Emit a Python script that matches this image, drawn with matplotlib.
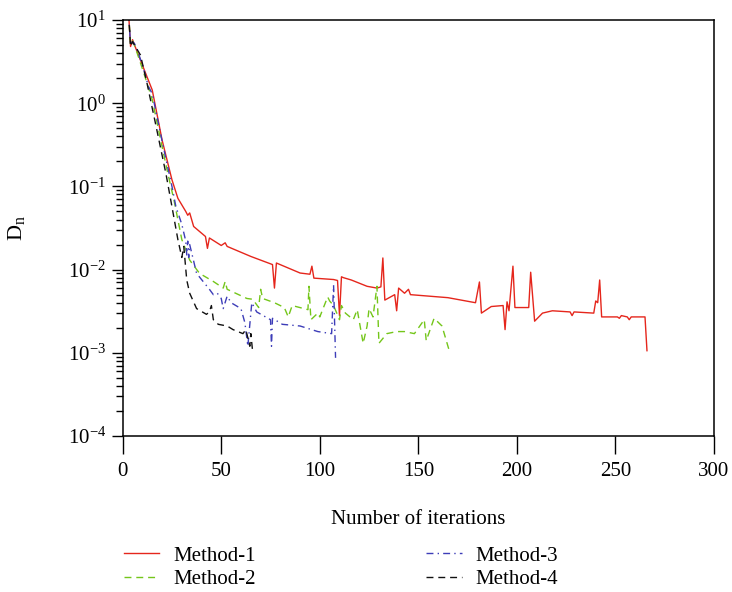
import matplotlib
matplotlib.use("Agg")
import matplotlib.pyplot as plt
from matplotlib.ticker import LogLocator, NullFormatter, FixedLocator

plt.rcParams['font.family'] = ['Liberation Serif', 'DejaVu Serif']
plt.rcParams['mathtext.fontset'] = 'custom'
plt.rcParams['mathtext.rm'] = 'Liberation Serif'
plt.rcParams['mathtext.it'] = 'Liberation Serif:italic'
plt.rcParams['mathtext.bf'] = 'Liberation Serif:bold'

# ---------------- data ----------------
labels = ["Method-1", "Method-2", "Method-3", "Method-4"]

m1_x = [3, 4, 5, 6, 8, 11, 15, 20, 25, 28, 32, 33, 34, 36, 42, 43, 44, 50, 52, 53,
        65, 76, 77, 78, 90, 95, 96, 97, 107, 109, 110, 111, 112, 116, 124, 129, 131,
        132, 133, 138, 139, 140, 143, 145, 146, 165, 179, 181, 182, 187, 193, 194,
        195, 196, 198, 199, 206, 207, 209, 213, 218, 227, 228, 229, 239, 240, 241,
        242, 243, 251, 252, 253, 256, 257, 258, 265, 266]
m1_y = [12, 4.8, 5.8, 5.0, 3.8, 2.5, 1.44, 0.36, 0.12, 0.072, 0.050, 0.045, 0.048,
        0.033, 0.025, 0.018, 0.024, 0.0195, 0.021, 0.019,
        0.0144, 0.0115, 0.006, 0.012, 0.0091, 0.0088, 0.011, 0.0079, 0.0076, 0.0074,
        0.0028, 0.0082, 0.0080, 0.0075, 0.0063, 0.0060, 0.0062,
        0.0138, 0.0043, 0.0050, 0.0032, 0.0060, 0.0052, 0.0058, 0.0050, 0.0046,
        0.0040, 0.0071, 0.0030, 0.0036, 0.0037, 0.0019,
        0.0041, 0.0032, 0.0110, 0.0035, 0.0035, 0.0093, 0.0024, 0.0030, 0.0032,
        0.0031, 0.0028, 0.0031, 0.0030, 0.0042, 0.0040,
        0.0075, 0.0027, 0.0027, 0.0026, 0.0028, 0.0027, 0.0025, 0.0027, 0.0027, 0.00106]

m2_x = [3, 4, 5, 6, 8, 11, 15, 20, 23, 26, 30, 34, 39, 46, 51, 52, 53, 63, 66, 69,
        70, 71, 77, 82, 84, 86, 94, 94.5, 95.5, 99, 100, 104, 105, 107, 110, 111,
        113, 117, 119, 122, 124, 125, 127, 129, 130, 134, 139, 143, 148, 153, 154,
        158, 162, 166]
m2_y = [12, 5.0, 5.6, 5.0, 3.6, 2.2, 1.1, 0.30, 0.14, 0.069, 0.023, 0.013, 0.009,
        0.0072, 0.0060, 0.0072, 0.0058, 0.0045, 0.0044, 0.0035,
        0.0058, 0.0045, 0.0040, 0.0035, 0.0027, 0.0037, 0.0033, 0.0063, 0.0025,
        0.0030, 0.0027, 0.0047, 0.0042, 0.0037, 0.0025, 0.0037,
        0.0030, 0.0025, 0.0033, 0.0013, 0.0021, 0.0034, 0.0027, 0.0063, 0.0013,
        0.0017, 0.0018, 0.0018, 0.0017, 0.0025, 0.0014,
        0.0026, 0.0021, 0.0010]

m3_x = [3, 4, 5, 6, 8, 11, 13, 15, 20, 25, 27, 30, 32, 32.5, 33, 33.5, 34, 37.5,
        44, 46, 48, 50, 51, 53, 55, 60, 62, 63.5, 65.5, 68, 75, 75.5, 76, 81, 90,
        99, 106, 107, 108]
m3_y = [12, 5.0, 5.5, 5.2, 4.0, 2.4, 1.6, 1.3, 0.35, 0.10, 0.057, 0.035, 0.022,
        0.015, 0.022, 0.014, 0.020, 0.009,
        0.0058, 0.0050, 0.0052, 0.0045, 0.0034, 0.0048, 0.0040, 0.0034, 0.0023,
        0.0012, 0.0040, 0.0031, 0.0025, 0.0012, 0.0026, 0.0022, 0.0021,
        0.0018, 0.0017, 0.0065, 0.00087]

m4_x = [3, 4, 5, 6, 9, 12, 17, 22, 25, 28, 30, 31, 32.5, 34, 37.5, 42.5, 44, 45,
        46, 48.5, 53, 56, 61, 62.5, 64.5, 65, 66]
m4_y = [12, 4.8, 5.5, 5.0, 3.8, 1.9, 0.52, 0.14, 0.057, 0.023, 0.014, 0.019,
        0.0075, 0.0052, 0.0034, 0.0029, 0.0031, 0.0037,
        0.0025, 0.0022, 0.0021, 0.0019, 0.0017, 0.0019, 0.0012, 0.0017, 0.0010]

x_ticks = [0, 50, 100, 150, 200, 250, 300]

# ---------------- figure ----------------
fig = plt.figure(figsize=(7.32, 5.92), dpi=100)
ax = fig.add_axes([0.1676, 0.2635, 0.8078, 0.7027])

styles = [
    dict(color='#e5261c', linestyle='-', linewidth=1.0),
    dict(color='#74c61a', linestyle=(0, (5, 3.5)), linewidth=1.0),
    dict(color='#3d3db8', linestyle=(0, (5, 3, 1, 3)), linewidth=1.0),
    dict(color='#111111', linestyle=(0, (5, 3.5)), linewidth=1.0),
]
series = [(m1_x, m1_y), (m2_x, m2_y), (m3_x, m3_y), (m4_x, m4_y)]
for (xs, ys), lab, st in zip(series, labels, styles):
    ax.plot(xs, ys, label=lab, **st)

ax.set_yscale('log')
ax.set_xlim(0, 300)
ax.set_ylim(1e-4, 10)
ax.xaxis.set_major_locator(FixedLocator(x_ticks))
ax.yaxis.set_major_locator(LogLocator(base=10, numticks=10))
ax.yaxis.set_minor_locator(LogLocator(base=10, subs=range(2, 10), numticks=20))
ax.yaxis.set_minor_formatter(NullFormatter())

for sp in ax.spines.values():
    sp.set_linewidth(1.1)
ax.tick_params(axis='x', which='major', direction='out', length=13, width=1.0,
               labelsize=15, pad=6)
ax.tick_params(axis='y', which='major', direction='out', length=8, width=1.0,
               labelsize=15, pad=4)
ax.tick_params(axis='y', which='minor', direction='out', length=5, width=1.0)
ax.tick_params(top=False, right=False)

ax.set_xlabel('Number of iterations', fontsize=15)
ax.xaxis.set_label_coords(0.5, -0.178)
ax.set_ylabel(r'$\mathrm{D_n}$', fontsize=16)
ax.yaxis.set_label_coords(-0.162, 0.5)

fig.legend(loc='upper left', bbox_to_anchor=(124 / 732, 1 - 546 / 592),
           ncol=2, frameon=False, fontsize=15, handlelength=1.7,
           handletextpad=0.65, columnspacing=8.2, labelspacing=0.2,
           borderpad=0, borderaxespad=0)

fig.savefig('out.png', dpi=100)
